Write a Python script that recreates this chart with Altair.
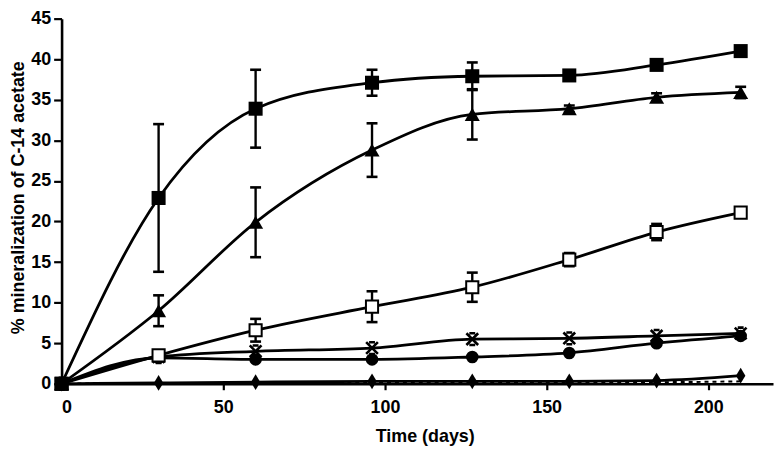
import altair as alt
import pandas as pd

# Sampling times (days)
times = [0, 30, 60, 96, 127, 157, 184, 210]

# Series values (% mineralization) and error half-widths
sq_filled = [0, 22.9, 33.9, 37.1, 37.9, 38.0, 39.3, 41.0]
sq_filled_err = [0, 9.1, 4.8, 1.6, 1.7, 0.4, 0.4, 0.5]

triangle = [0, 9.0, 19.9, 28.8, 33.2, 33.9, 35.3, 35.9]
triangle_err = [0, 1.9, 4.3, 3.3, 3.1, 0.4, 0.5, 0.7]

sq_open = [0, 3.5, 6.6, 9.5, 11.9, 15.3, 18.7, 21.1]
sq_open_err = [0, 0.4, 1.4, 1.9, 1.8, 0.8, 1.0, 0.5]

asterisk = [0, 3.3, 4.0, 4.4, 5.5, 5.6, 5.9, 6.2]
circle = [0, 3.2, 3.0, 3.0, 3.3, 3.8, 5.0, 5.9]
diamond = [0, 0.1, 0.2, 0.3, 0.3, 0.3, 0.4, 1.0]
dashed = [0, 0.1, 0.1, 0.1, 0.2, 0.2, 0.2, 0.3]

x_ticks = [0, 50, 100, 150, 200]
y_ticks = [0, 5, 10, 15, 20, 25, 30, 35, 40, 45]

FONT = "Liberation Sans"
W, H = 717, 368

def frame(name, vals, errs=None):
    rows = []
    for i, (t, v) in enumerate(zip(times, vals)):
        e = errs[i] if errs else 0
        rows.append({"series": name, "t": t, "v": v, "lo": v - e, "hi": v + e})
    return pd.DataFrame(rows)

d_sq = frame("filled square", sq_filled, sq_filled_err)
d_tri = frame("triangle", triangle, triangle_err)
d_open = frame("open square", sq_open, sq_open_err)
d_ast = frame("asterisk", asterisk)
d_cir = frame("circle", circle)
d_dia = frame("diamond", diamond)
d_dash = frame("dashed", dashed)

solid = pd.concat([d_sq, d_tri, d_open, d_ast, d_cir, d_dia])
errs = pd.concat([d_sq, d_tri, d_open])
errs = errs[errs["hi"] - errs["lo"] > 0.01]

X = alt.X("t:Q", scale=alt.Scale(domain=[0, 220], nice=False),
          axis=alt.Axis(values=x_ticks, title="Time (days)", titleX=366, titleY=53,
                        titleBaseline="middle", titleAlign="center", titleFontSize=18))
Y = alt.Y("v:Q", scale=alt.Scale(domain=[0, 45], nice=False),
          axis=alt.Axis(values=y_ticks, title="% mineralization of C-14 acetate",
                        titleX=-43, titleY=180, titleBaseline="middle",
                        titleAlign="center", titleAngle=-90, titleFontSize=18))

lines = alt.Chart(solid).mark_line(interpolate="monotone", color="black", strokeWidth=2.8).encode(
    x=X, y=Y, detail="series:N")
dash_line = alt.Chart(d_dash).mark_line(interpolate="monotone", color="black", strokeWidth=2,
                                         strokeDash=[4, 4]).encode(x=X, y=Y)

err_rule = alt.Chart(errs).mark_rule(color="black", strokeWidth=2.4).encode(
    x=X, y=alt.Y("lo:Q"), y2="hi:Q")
cap_lo = alt.Chart(errs).mark_tick(orient="horizontal", color="black", size=11, thickness=2.6,
                                   opacity=1).encode(x=X, y=alt.Y("lo:Q"))
cap_hi = alt.Chart(errs).mark_tick(orient="horizontal", color="black", size=11, thickness=2.6,
                                   opacity=1).encode(x=X, y=alt.Y("hi:Q"))

p_sq = alt.Chart(d_sq).mark_point(shape="square", filled=True, color="black", size=200,
                                  opacity=1).encode(x=X, y=Y)
p_tri = alt.Chart(d_tri).mark_point(shape="triangle-up", filled=True, color="black", size=230,
                                    opacity=1).encode(x=X, y=Y)
p_open = alt.Chart(d_open).mark_point(shape="square", filled=False, fill="white", stroke="black",
                                      strokeWidth=2, size=150, opacity=1).encode(x=X, y=Y)
p_ast = alt.Chart(d_ast).mark_point(shape="M-1,-1L1,1M-1,1L1,-1M-0.5,-1L0.5,-1M-0.5,1L0.5,1",
                                    filled=False, stroke="black", strokeWidth=2.6, size=140,
                                    opacity=1).encode(x=X, y=Y)
p_cir = alt.Chart(d_cir).mark_point(shape="circle", filled=True, color="black", size=160,
                                    opacity=1).encode(x=X, y=Y)
p_dia = alt.Chart(d_dia).mark_point(shape="M0,-1L0.6,0L0,1L-0.6,0Z", filled=True, color="black",
                                    size=250, opacity=1).encode(x=X, y=Y)

chart = alt.layer(
    dash_line, lines, err_rule, cap_lo, cap_hi,
    p_dia, p_cir, p_ast, p_open, p_tri, p_sq
).properties(
    width=W, height=H,
    autosize=alt.AutoSizeParams(type="none"),
    padding={"left": 54, "top": 9, "right": 2, "bottom": 62},
).configure_view(stroke=None).configure_axis(
    domainColor="black", domainWidth=2.6, tickColor="black", tickWidth=2.2, grid=False,
    labelFont=FONT, labelFontWeight="bold", labelFontSize=18, labelColor="black",
    titleFont=FONT, titleFontWeight="bold", titleColor="black",
).configure_axisY(tickSize=8, labelPadding=3).configure_axisX(tickSize=6, labelPadding=9)

chart.save("out.html", embed_options={"renderer": "svg", "actions": False})
